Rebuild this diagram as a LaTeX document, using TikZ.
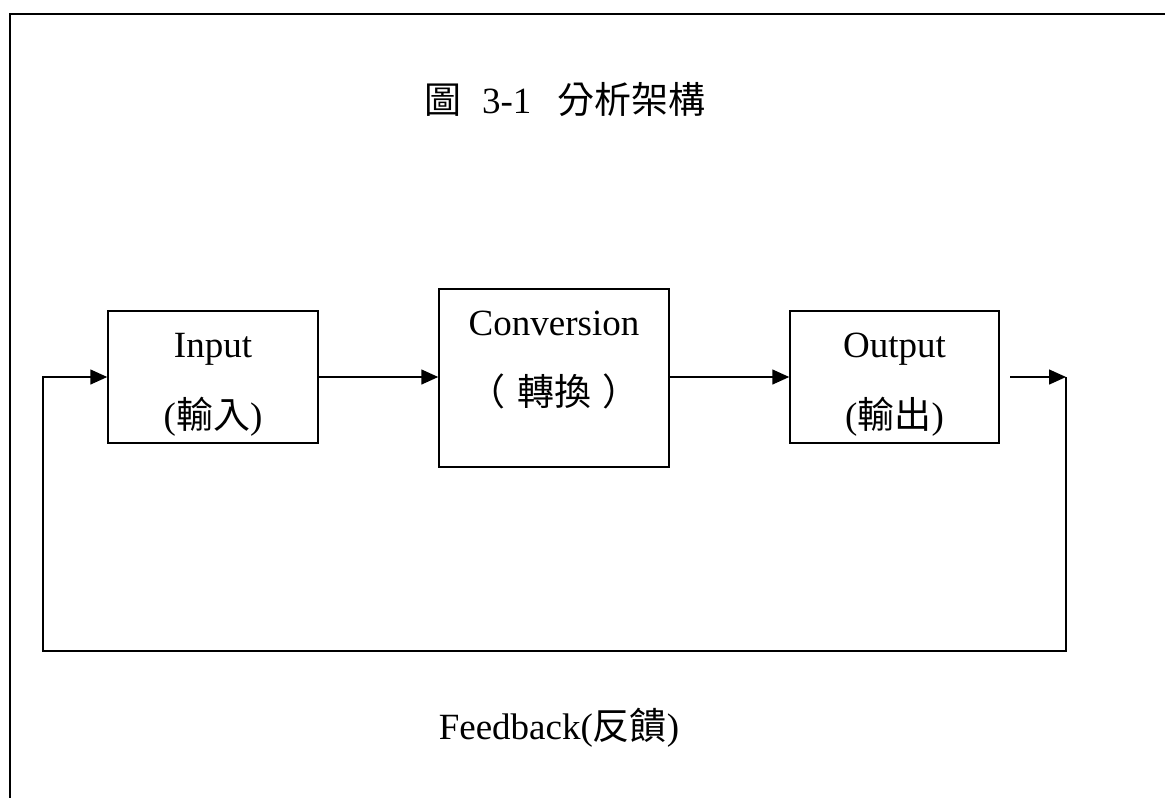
\documentclass[tikz,border=0pt]{standalone}
\usepackage{fontspec}
\setmainfont{Liberation Serif}
\newfontfamily\cjk{Noto Sans CJK TC}
\newcommand{\zh}[1]{{\cjk #1}}
\usetikzlibrary{arrows.meta}
\begin{document}
\begin{tikzpicture}[x=1pt,y=-1pt,
  frame/.style={line width=2pt},
  blk/.style={draw,line width=1.5pt,rectangle,inner sep=0pt},
  lbl/.style={inner sep=0pt,anchor=base,font=\fontsize{37}{44}\selectfont},
  arr/.style={line width=1.5pt,-{Triangle[length=17pt,width=15pt]}}]
\useasboundingbox (0,0) rectangle (1165,798);
\fill[white] (0,0) rectangle (1165,798);
\draw[frame] (10,798) -- (10,14) -- (1165,14);
% title
\node[lbl] (title) at (565,113) {\zh{圖}\hspace{0.55em}3-1\hspace{0.7em}\zh{分析架構}};
% boxes
\node[blk,minimum width=210pt,minimum height=132pt] (input) at (213,377) {};
\node[blk,minimum width=230pt,minimum height=178pt] (conv) at (554,378) {};
\node[blk,minimum width=209pt,minimum height=132pt] (output) at (894.5,377) {};
% box texts
\node[lbl] (inA) at (213,357) {Input};
\node[lbl] (inB) at (213,428) {(\zh{輸入})};
\node[lbl] (cvA) at (554,335) {Conversion};
\node[lbl] (cvB) at (554,405) {\zh{（\hspace{0.3em}轉換\hspace{0.3em}）}};
\node[lbl] (outA) at (894.5,357) {Output};
\node[lbl] (outB) at (894.5,428) {(\zh{輸出})};
% feedback label
\node[lbl] (fb) at (559,739) {Feedback(\zh{反饋})};
% connectors
\coordinate (outS) at (1010,377);
\coordinate (fbR) at (1066,377);
\coordinate (fbBR) at (1066,651);
\coordinate (fbBL) at (43,651);
\draw[arr] (input.east) -- (input.east -| conv.west);
\draw[arr] (conv.east |- output.west) -- (output.west);
\draw[arr] (outS) -- (fbR);
\draw[arr] (fbR) -- (fbBR) -- (fbBL) |- (input.west);
\end{tikzpicture}
\end{document}
